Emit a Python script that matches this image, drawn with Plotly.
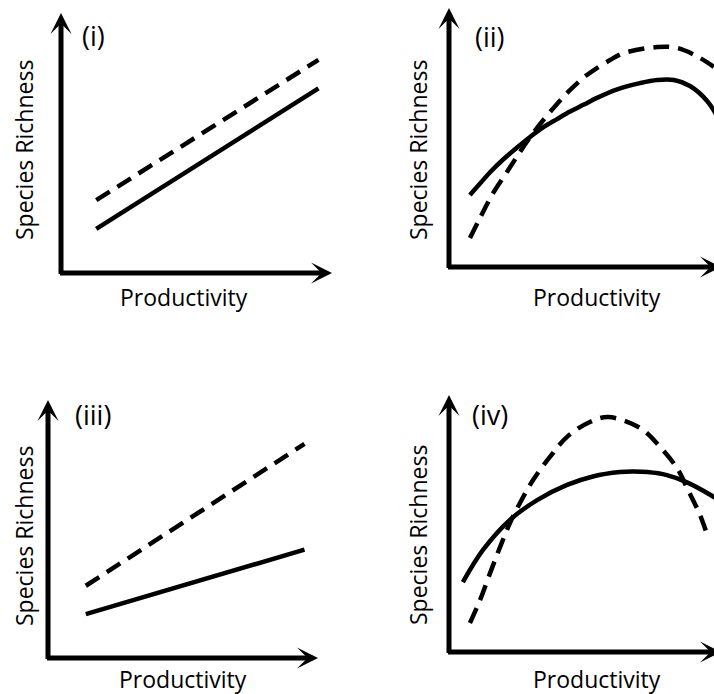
import plotly.graph_objects as go

# ---------------- data (conceptual units: 0 at origin, 10 at arrow tip) ----------------
panel_labels = ["(i)", "(ii)", "(iii)", "(iv)"]
x_title = "Productivity"
y_title = "Species Richness"

# (i) parallel increasing lines
prod_i = [1.3, 9.5]
rich_i_solid = [1.7, 7.1]
rich_i_dashed = [2.8, 8.2]

# (ii) hump-shaped, dashed steeper
prod_ii_solid = [0.77, 1.14, 1.51, 1.99, 2.50, 2.98, 3.46, 3.97, 4.45, 4.96, 5.44,
                 6.21, 7.02, 7.65, 8.27, 8.86, 9.49, 10.0]
rich_ii_solid = [2.78, 3.22, 3.66, 4.15, 4.61, 5.02, 5.39, 5.71, 6.00, 6.27, 6.53,
                 6.87, 7.10, 7.22, 7.22, 6.99, 6.41, 5.56]
prod_ii_dashed = [0.77, 1.14, 1.58, 2.13, 2.61, 3.09, 3.71, 4.38, 5.07, 5.92, 6.43, 7.65, 8.38, 9.23, 10.0]
rich_ii_dashed = [1.12, 1.89, 2.78, 3.67, 4.44, 5.17, 5.98, 6.76, 7.41, 7.99, 8.26, 8.49, 8.46, 8.07, 7.53]

# (iii) diverging increasing lines
prod_iii = [1.4, 9.5]
rich_iii_solid = [1.7, 4.2]
rich_iii_dashed = [2.8, 8.3]

# (iv) hump-shaped, dashed much more peaked
prod_iv_solid = [0.51, 1.25, 2.24, 3.24, 4.34, 5.29, 6.29, 6.76, 7.30, 8.01, 8.75, 9.60, 10.0]
rich_iv_solid = [2.72, 3.97, 5.14, 5.91, 6.50, 6.83, 7.00, 7.02, 7.00, 6.88, 6.60, 6.12, 5.85]
prod_iv_dashed = [0.77, 1.14, 1.51, 1.88, 2.24, 2.61, 3.09, 3.71, 4.34, 5.18, 5.85, 7.02, 7.76, 8.38, 8.79, 9.23, 9.52]
rich_iv_dashed = [1.13, 2.02, 3.07, 4.09, 5.02, 5.80, 6.69, 7.59, 8.37, 8.95, 9.14, 8.72, 7.98, 7.16, 6.30, 5.33, 4.47]

series = [
    (prod_i, rich_i_solid, prod_i, rich_i_dashed),
    (prod_ii_solid, rich_ii_solid, prod_ii_dashed, rich_ii_dashed),
    (prod_iii, rich_iii_solid, prod_iii, rich_iii_dashed),
    (prod_iv_solid, rich_iv_solid, prod_iv_dashed, rich_iv_dashed),
]

# ---------------- layout geometry (pixels) ----------------
W, H = 714, 694
# origin x, origin y, x-arrow tip, y-arrow tip
geom = [
    (61, 273, 332, 13),
    (449, 267, 721, 8),
    (48, 658, 318, 400),
    (449, 652, 721, 395),
]
FONT = "Open Sans"
LW = 4.5
AXW = 5

fig = go.Figure()
layout = dict(width=W, height=H, margin=dict(l=0, r=0, t=0, b=0),
              paper_bgcolor="white", plot_bgcolor="white", showlegend=False)
annotations = []

for k, ((ox, oy, tx, ty), (xs, ys, xd, yd)) in enumerate(zip(geom, series)):
    n = "" if k == 0 else str(k + 1)
    sx = (tx - ox) / 10.0
    sy = (oy - ty) / 10.0
    left = ox - 0.6 * sx
    right = min(W, tx + 0.3 * sx)
    bottom = oy + 0.6 * sy
    top = max(0, ty - 0.3 * sy)
    layout["xaxis" + n] = dict(domain=[left / W, right / W],
                               range=[(left - ox) / sx, (right - ox) / sx],
                               visible=False, fixedrange=True)
    layout["yaxis" + n] = dict(domain=[1 - bottom / H, 1 - top / H],
                               range=[(oy - bottom) / sy, (oy - top) / sy],
                               visible=False, fixedrange=True)
    xa, ya = "x" + n, "y" + n
    fig.add_trace(go.Scatter(x=xd, y=yd, mode="lines", xaxis=xa, yaxis=ya,
                             line=dict(color="black", width=LW, dash="16px,9px",
                                       shape="spline", smoothing=1.0),
                             hoverinfo="skip"))
    fig.add_trace(go.Scatter(x=xs, y=ys, mode="lines", xaxis=xa, yaxis=ya,
                             line=dict(color="black", width=LW,
                                       shape="spline", smoothing=1.0),
                             hoverinfo="skip"))
    # axes drawn as arrows
    annotations.append(dict(xref=xa, yref=ya, axref=xa, ayref=ya,
                            x=10, y=0, ax=-AXW / 2 / sx, ay=0,
                            showarrow=True, arrowhead=3, arrowsize=0.7,
                            arrowwidth=AXW, arrowcolor="black", text=""))
    annotations.append(dict(xref=xa, yref=ya, axref=xa, ayref=ya,
                            x=0, y=10, ax=0, ay=-AXW / 2 / sy,
                            showarrow=True, arrowhead=3, arrowsize=0.7,
                            arrowwidth=AXW, arrowcolor="black", text=""))

# text positions (pixels)
label_pos = [(93, 35), (490, 36), (93, 414), (490, 414)]
xtitle_pos = [(184, 297), (597, 297), (183, 679), (597, 679)]
ytitle_pos = [(24, 150), (418, 150), (24, 536), (418, 535)]

for k in range(4):
    lx, ly = label_pos[k]
    annotations.append(dict(xref="paper", yref="paper", x=lx / W, y=1 - ly / H,
                            text=panel_labels[k], showarrow=False,
                            xanchor="center", yanchor="middle",
                            font=dict(family=FONT, size=27, color="black")))
    px, py = xtitle_pos[k]
    annotations.append(dict(xref="paper", yref="paper", x=px / W, y=1 - py / H,
                            text=x_title, showarrow=False,
                            xanchor="center", yanchor="middle",
                            font=dict(family=FONT, size=23, color="black")))
    qx, qy = ytitle_pos[k]
    annotations.append(dict(xref="paper", yref="paper", x=qx / W, y=1 - qy / H,
                            text=y_title, showarrow=False, textangle=-90,
                            xanchor="center", yanchor="middle",
                            font=dict(family=FONT, size=23, color="black")))

layout["annotations"] = annotations
fig.update_layout(**layout)
fig.write_html("out.html", config={"displayModeBar": False},
               post_script="document.body.style.margin='0px';document.body.style.overflow='hidden';")
